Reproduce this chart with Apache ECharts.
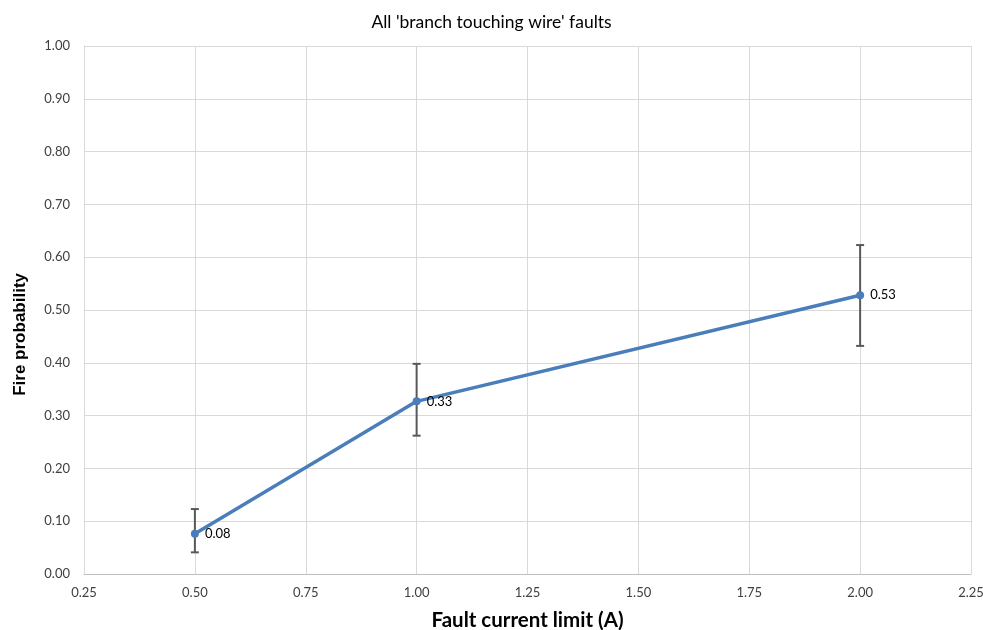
<!DOCTYPE html>
<html><head><meta charset="utf-8">
<script src="https://cdn.jsdelivr.net/npm/echarts@6/dist/echarts.min.js"></script>
<style>html,body{margin:0;padding:0;background:#fff}#c{width:983px;height:630px}</style>
</head><body><div id="c"></div>
<script>
const xValues = [0.5, 1.0, 2.0];
const yValues = [0.076, 0.327, 0.528];
const errLow = [0.041, 0.262, 0.432];
const errHigh = [0.123, 0.398, 0.623];
const pointLabels = ['0.08', '0.33', '0.53'];
const chartTitle = "All 'branch touching wire' faults";
const xTitle = 'Fault current limit (A)';
const yTitle = 'Fire probability';

const font = 'Lato, "Open Sans", sans-serif';
const chart = echarts.init(document.getElementById('c'));
chart.setOption({
  animation: false,
  title: {text: chartTitle, left: 'center', top: 8, textStyle: {fontFamily: font, fontSize: 17.5, fontWeight: 'normal', color: '#000'}},
  grid: {left: 84, right: 12, top: 46, bottom: 56, containLabel: false, outerBoundsMode: 'none'},
  graphic: [{
    type: 'text', left: 12, top: 273,
    style: {text: yTitle, fontFamily: '"Liberation Sans", Arial, sans-serif', fontSize: 17, fontWeight: 'bold', fill: '#000'},
    rotation: Math.PI / 2
  }],
  xAxis: {
    type: 'value', min: 0.25, max: 2.25, interval: 0.25,
    name: xTitle, nameLocation: 'middle', nameGap: 36,
    nameTextStyle: {fontFamily: font, fontSize: 20.5, fontWeight: 'bold', color: '#000'},
    axisLine: {lineStyle: {color: '#bfbfbf'}}, axisTick: {show: false},
    axisLabel: {fontFamily: font, fontSize: 13, color: '#404040', margin: 12, formatter: v => v.toFixed(2)},
    splitLine: {lineStyle: {color: '#d9d9d9'}}
  },
  yAxis: {
    type: 'value', min: 0, max: 1, interval: 0.1,
    axisLine: {show: true, lineStyle: {color: '#d9d9d9'}}, axisTick: {show: false},
    axisLabel: {fontFamily: font, fontSize: 13, color: '#404040', margin: 14, formatter: v => v.toFixed(2)},
    splitLine: {lineStyle: {color: '#d9d9d9'}}
  },
  series: [
    {
      type: 'custom',
      data: xValues.map((x, i) => [x, errLow[i], errHigh[i]]),
      renderItem: (params, api) => {
        const lo = api.coord([api.value(0), api.value(1)]);
        const hi = api.coord([api.value(0), api.value(2)]);
        const w = 4;
        const st = {stroke: '#595959', lineWidth: 2};
        return {type: 'group', children: [
          {type: 'line', shape: {x1: lo[0], y1: lo[1], x2: hi[0], y2: hi[1]}, style: st},
          {type: 'line', shape: {x1: lo[0]-w, y1: lo[1], x2: lo[0]+w, y2: lo[1]}, style: st},
          {type: 'line', shape: {x1: hi[0]-w, y1: hi[1], x2: hi[0]+w, y2: hi[1]}, style: st}
        ]};
      },
      z: 1
    },
    {
      type: 'line',
      data: xValues.map((x, i) => [x, yValues[i]]),
      symbol: 'circle', symbolSize: 8,
      lineStyle: {color: '#4a7ebb', width: 3.5},
      itemStyle: {color: '#4a7ebb'},
      label: {show: true, position: 'right', distance: 6, fontFamily: font, fontSize: 13, color: '#000',
        formatter: p => pointLabels[p.dataIndex]},
      z: 3
    }
  ]
});
</script></body></html>
